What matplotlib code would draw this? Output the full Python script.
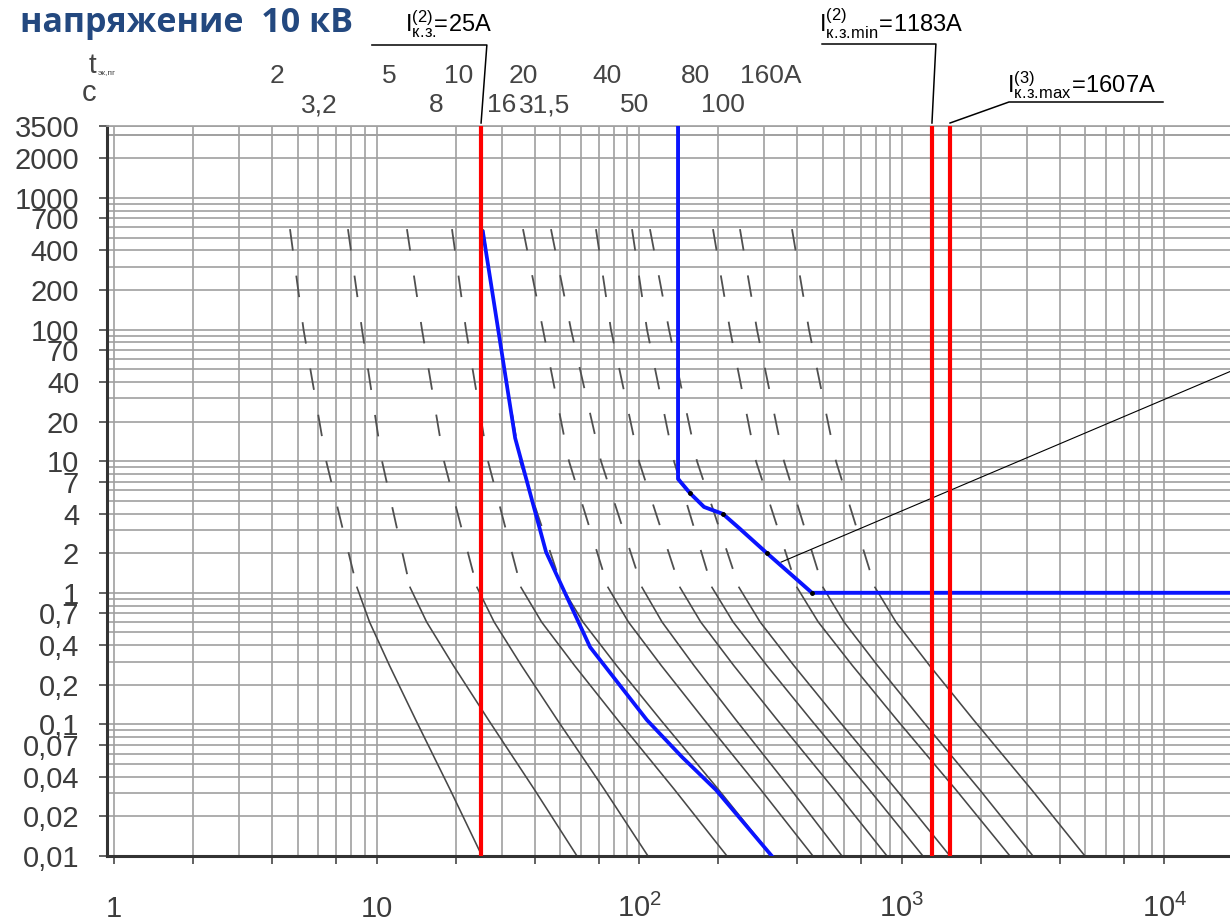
import numpy as np
import matplotlib
matplotlib.use('Agg')
import matplotlib.pyplot as plt
from matplotlib.ticker import FixedLocator, FixedFormatter, NullFormatter
from matplotlib.transforms import blended_transform_factory

plt.rcParams['font.family'] = ['Liberation Sans', 'DejaVu Sans']
plt.rcParams['mathtext.fontset'] = 'custom'
plt.rcParams['mathtext.rm'] = 'Liberation Sans'
plt.rcParams['mathtext.it'] = 'Liberation Sans:italic'
plt.rcParams['mathtext.bf'] = 'Liberation Sans:bold'

# номиналы предохранителей (подписи сверху)
fuse_row1 = ['2', '5', '10', '20', '40', '80', '160A']
fuse_row2 = ['3,2', '8', '16', '31,5', '50', '100']

# штриховая часть характеристик: время, с / ток, А
dash_t = [580, 100, 10, 1.1]
dash_I = [
    [4.68, 5.27, 6.43, 8.42],
    [7.78, 8.80, 10.49, 13.41],
    [13.05, 14.89, 18.06, 24.12],
    [19.37, 21.90, 26.57, 35.47],
    [25.42, 29.00, 35.16, 50.82],
    [36.10, 43.02, 54.04, 76.06],
    [46.14, 55.00, 71.53, 102.5],
    [68.46, 78.08, 99.8, 143.0],
    [93.9, 107.1, 135.7, 189.3],
    [109.9, 129.9, 166.0, 239.9],
    [191.0, 221.7, 278.5, 398.9],
    [242.0, 280.9, 356.0, 501.1],
    [381.9, 443.2, 561.6, 790.7],
]

# сплошная часть характеристик
solid_t = [1.1, 0.6, 0.28, 0.108, 0.032, 0.01]
solid_I = [
    [8.42, 9.40, 11.20, 14.10, 19.05, 25.20],
    [13.41, 15.51, 19.61, 26.68, 39.90, 57.96],
    [24.12, 28.03, 35.62, 48.81, 73.71, 108.0],
    [35.47, 42.49, 56.75, 82.87, 136.2, 215.9],
    [50.82, 61.09, 82.0, 120.8, 200.4, 320.4],
    [76.06, 91.0, 121.4, 177.1, 290.2, 459.0],
    [102.5, 122.2, 161.7, 233.7, 378.5, 592.0],
    [143.0, 171.5, 229.2, 335.8, 552.8, 878.3],
    [189.3, 227.9, 306.4, 451.9, 751.3, 1204],
    [239.9, 288.7, 388.2, 572.6, 952.1, 1526],
    [398.9, 480.8, 648.6, 959.6, 1605, 2582],
    [501.1, 602.5, 808.6, 1191, 1977, 3160],
    [790.7, 950.4, 1276, 1878, 3118, 4984],
]

# выбранный предохранитель (синий)
fuse_sel_I = [25.4, 33.7, 44.2, 65.0, 107, 145.6, 196, 320]
fuse_sel_t = [552, 15.0, 2.04, 0.387, 0.108, 0.0565, 0.0318, 0.01]

# характеристика защиты (синяя)
relay_I = [140.6, 140.6, 156, 176.6, 208.6, 239.9, 306.6, 455, 30000]
relay_t = [3500, 7.33, 5.73, 4.49, 3.97, 3.11, 2.00, 1.0, 1.0]
relay_dot_I = [156, 208.6, 306.6, 455]
relay_dot_t = [5.73, 3.97, 2.00, 1.0]

# токи КЗ (красные)
ikz = [25, 1303, 1527]

# выноска
pointer_I = [347, 17780]
pointer_t = [1.71, 48.0]

y_ticks = [3500, 2000, 1000, 700, 400, 200, 100, 70, 40, 20, 10, 7, 4, 2, 1,
           0.7, 0.4, 0.2, 0.1, 0.07, 0.04, 0.02, 0.01]
y_labels = ['3500', '2000', '1000', '700', '400', '200', '100', '70', '40', '20',
            '10', '7', '4', '2', '1', '0,7', '0,4', '0,2', '0,1', '0,07', '0,04',
            '0,02', '0,01']
x_dec = [1, 10, 100, 1000, 10000]
x_dec_labels = ['1', '10', r'$\mathregular{10^{2}}$', r'$\mathregular{10^{3}}$',
                r'$\mathregular{10^{4}}$']

W, H = 1230, 922
fig = plt.figure(figsize=(W / 100, H / 100), dpi=100)
ax = fig.add_axes([107 / W, 66 / H, (W - 107) / W, 729.6 / H])
ax.set_xscale('log')
ax.set_yscale('log')
ax.set_xlim(0.9405, 17780)
ax.set_ylim(0.01, 3500)

# сетка
decs = [0.1, 1, 10, 100, 1000, 10000]
x_major = [m * d for d in decs for m in (1, 2, 4, 7)]
x_minor = [m * d for d in decs for m in (3, 5, 6, 8, 9)]
y_minor = [m * d for d in [0.01, 0.1, 1, 10, 100, 1000] for m in (3, 5, 6, 8, 9)]
ax.xaxis.set_major_locator(FixedLocator(x_major))
ax.xaxis.set_minor_locator(FixedLocator(x_minor))
ax.xaxis.set_major_formatter(FixedFormatter(
    [x_dec_labels[x_dec.index(v)] if v in x_dec else '' for v in x_major]))
ax.xaxis.set_minor_formatter(NullFormatter())
ax.yaxis.set_major_locator(FixedLocator(y_ticks))
ax.yaxis.set_major_formatter(FixedFormatter(y_labels))
ax.yaxis.set_minor_locator(FixedLocator(y_minor + [3000]))
ax.yaxis.set_minor_formatter(NullFormatter())

ax.grid(which='both', color='#a0a0a0', lw=1.2)
ax.set_axisbelow(True)
ax.tick_params(which='major', direction='out', length=6, width=1.3, color='#555',
               labelsize=21, labelcolor='#3c3c3c')
ax.tick_params(which='minor', length=0)
ax.tick_params(axis='y', pad=14)
ax.tick_params(axis='x', pad=38)
for s in ['left', 'bottom']:
    ax.spines[s].set_color('#333')
    ax.spines[s].set_linewidth(2.2)
ax.spines['top'].set_color('#a0a0a0')
ax.spines['top'].set_linewidth(1.2)
ax.spines['right'].set_visible(False)

# характеристики предохранителей
for di, si in zip(dash_I, solid_I):
    ax.plot(di, dash_t, color='#505050', lw=1.3, linestyle=(0, (12, 14)))
    ax.plot(si, solid_t, color='#484848', lw=1.15)

ax.plot(fuse_sel_I, fuse_sel_t, color='#0a14ff', lw=2.7, zorder=5)
ax.plot(relay_I, relay_t, color='#0a14ff', lw=2.8, zorder=5)
ax.plot(relay_dot_I, relay_dot_t, 'o', color='black', ms=2.5, zorder=6)
ax.plot(pointer_I, pointer_t, color='black', lw=0.8, zorder=4)
for v in ikz:
    ax.axvline(v, color='#ff0000', lw=3, zorder=6)

# выноски к подписям токов КЗ
tr = blended_transform_factory(ax.transData, fig.transFigure)
y_top = 1 - 123 / H
ax.plot([25, 26.3, 9.6], [y_top, 1 - 45 / H, 1 - 45 / H], color='black', lw=1.1,
        transform=tr, clip_on=False)
ax.plot([1303, 1349, 497], [y_top, 1 - 44 / H, 1 - 44 / H], color='black', lw=1.1,
        transform=tr, clip_on=False)
ax.plot([1527, 2560, 9880], [y_top, 1 - 102 / H, 1 - 102 / H], color='black', lw=1.1,
        transform=tr, clip_on=False)


def ftext(px, py, s, **kw):
    fig.text(px / W, 1 - py / H, s, **kw)


ftext(20, 23, 'напряжение  10 кВ', fontsize=24.5, fontweight='bold', color='#23487f',
      family=['Open Sans', 'DejaVu Sans'], va='center', ha='left')
ftext(405, 24, r'$\mathregular{I^{(2)}_{к.\!з.}\!\!\!=\!25A}$', fontsize=17, va='center')
ftext(819, 24, r'$\mathregular{I^{(2)}_{к.\!з.\!min}\!=\!1183A}$', fontsize=17, va='center')
ftext(1007, 85, r'$\mathregular{I^{(3)}_{к.\!з.\!max}\!=\!1607A}$', fontsize=17, va='center')

ftext(92, 66, 't', fontsize=20, color='#444', ha='center', va='center')
ftext(98, 73, 'эк,пг', fontsize=6, color='#444', ha='left', va='center')
ftext(89, 93, 'с', fontsize=21, color='#444', ha='center', va='center')

row1_px = [277, 389, 459, 523, 607, 695, 771]
row2_px = [319, 436, 502, 545, 635, 723]
for s, px in zip(fuse_row1, row1_px):
    ftext(px, 76, s, fontsize=19, color='#444', ha='center', va='center')
for s, px in zip(fuse_row2, row2_px):
    ftext(px, 105, s, fontsize=19, color='#444', ha='center', va='center')

fig.canvas.draw()
for lbl in ax.get_xticklabels():
    lbl.set_verticalalignment('baseline')

fig.savefig('out.png', dpi=100)
